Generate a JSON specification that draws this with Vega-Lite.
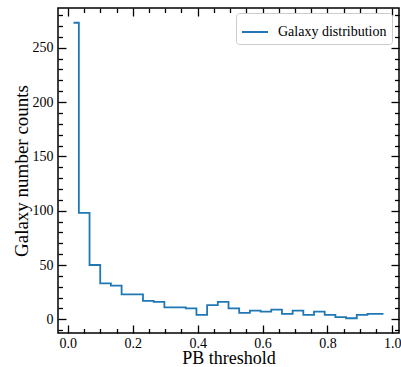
{
  "$schema": "https://vega.github.io/schema/vega-lite/v6.json",
  "width": 341,
  "height": 325,
  "autosize": {"type": "none"},
  "padding": {"left": 58, "top": 8, "right": 2, "bottom": 34},
  "background": "white",
  "config": {
    "view": {"stroke": "black", "strokeWidth": 1.5},
    "axis": {
      "labelFont": "Liberation Serif",
      "titleFont": "Liberation Serif",
      "labelFontSize": 14,
      "titleFontSize": 19,
      "titleFontWeight": "normal",
      "labelColor": "black",
      "titleColor": "black",
      "tickColor": "black",
      "tickWidth": 1.3,
      "domain": false,
      "grid": false
    },
    "legend": {
      "orient": "none",
      "legendX": 178,
      "legendY": 5,
      "padding": 5,
      "strokeColor": "#cccccc",
      "fillColor": "white",
      "cornerRadius": 3,
      "symbolType": "stroke",
      "symbolSize": 676,
      "symbolStrokeWidth": 2,
      "labelFont": "Liberation Serif",
      "labelFontSize": 14,
      "labelColor": "black",
      "labelOffset": 9
    }
  },
  "data": {
    "values": [
      {"pb": 0.0174, "count": 273, "series": "Galaxy distribution"},
      {"pb": 0.0503, "count": 98, "series": "Galaxy distribution"},
      {"pb": 0.0833, "count": 50, "series": "Galaxy distribution"},
      {"pb": 0.1162, "count": 33, "series": "Galaxy distribution"},
      {"pb": 0.1492, "count": 31, "series": "Galaxy distribution"},
      {"pb": 0.1821, "count": 23, "series": "Galaxy distribution"},
      {"pb": 0.2151, "count": 23, "series": "Galaxy distribution"},
      {"pb": 0.2480, "count": 17, "series": "Galaxy distribution"},
      {"pb": 0.2810, "count": 16, "series": "Galaxy distribution"},
      {"pb": 0.3139, "count": 11, "series": "Galaxy distribution"},
      {"pb": 0.3469, "count": 11, "series": "Galaxy distribution"},
      {"pb": 0.3798, "count": 10, "series": "Galaxy distribution"},
      {"pb": 0.4128, "count": 4, "series": "Galaxy distribution"},
      {"pb": 0.4457, "count": 13, "series": "Galaxy distribution"},
      {"pb": 0.4787, "count": 16, "series": "Galaxy distribution"},
      {"pb": 0.5116, "count": 10, "series": "Galaxy distribution"},
      {"pb": 0.5446, "count": 6, "series": "Galaxy distribution"},
      {"pb": 0.5775, "count": 8, "series": "Galaxy distribution"},
      {"pb": 0.6105, "count": 7, "series": "Galaxy distribution"},
      {"pb": 0.6434, "count": 9, "series": "Galaxy distribution"},
      {"pb": 0.6764, "count": 5, "series": "Galaxy distribution"},
      {"pb": 0.7093, "count": 8, "series": "Galaxy distribution"},
      {"pb": 0.7423, "count": 4, "series": "Galaxy distribution"},
      {"pb": 0.7752, "count": 7, "series": "Galaxy distribution"},
      {"pb": 0.8082, "count": 4, "series": "Galaxy distribution"},
      {"pb": 0.8411, "count": 2, "series": "Galaxy distribution"},
      {"pb": 0.8741, "count": 1, "series": "Galaxy distribution"},
      {"pb": 0.9070, "count": 4, "series": "Galaxy distribution"},
      {"pb": 0.9400, "count": 5, "series": "Galaxy distribution"},
      {"pb": 0.9729, "count": 5, "series": "Galaxy distribution"}
    ]
  },
  "layer": [
    {
      "mark": {"type": "line", "interpolate": "step", "strokeWidth": 1.8},
      "encoding": {
        "x": {
          "field": "pb", "type": "quantitative",
          "scale": {"domain": [-0.0304, 1.0207], "nice": false, "zero": false},
          "axis": {"orient": "bottom", "values": [0, 0.2, 0.4, 0.6, 0.8, 1.0], "format": ".1f", "ticks": false, "labelPadding": 3, "title": "PB threshold", "titleBaseline": "alphabetic", "titleY": 30, "titleFontSize": 18, "labelFlush": false, "labelOverlap": false}
        },
        "y": {
          "field": "count", "type": "quantitative",
          "scale": {"domain": [-12.6, 286.6], "nice": false, "zero": false},
          "axis": {"orient": "left", "values": [0, 50, 100, 150, 200, 250], "ticks": false, "labelPadding": 5, "title": "Galaxy number counts", "titlePadding": 1}
        },
        "color": {
          "field": "series", "type": "nominal",
          "scale": {"range": ["#1f77b4"]},
          "legend": {"title": null}
        }
      }
    },
    {
      "mark": {"type": "point", "opacity": 0},
      "encoding": {
        "x": {"field": "pb", "type": "quantitative", "scale": {"domain": [-0.0304, 1.0207], "nice": false, "zero": false},
          "axis": {"orient": "bottom", "values": [0, 0.2, 0.4, 0.6, 0.8, 1.0], "labels": false, "tickSize": -8, "title": null}},
        "y": {"field": "count", "type": "quantitative", "scale": {"domain": [-12.6, 286.6], "nice": false, "zero": false},
          "axis": {"orient": "left", "values": [0, 50, 100, 150, 200, 250], "labels": false, "tickSize": -8, "title": null}}
      }
    },
    {
      "mark": {"type": "point", "opacity": 0},
      "encoding": {
        "x": {"field": "pb", "type": "quantitative", "scale": {"domain": [-0.0304, 1.0207], "nice": false, "zero": false},
          "axis": {"orient": "bottom", "values": [0.05, 0.1, 0.15, 0.25, 0.3, 0.35, 0.45, 0.5, 0.55, 0.65, 0.7, 0.75, 0.85, 0.9, 0.95], "labels": false, "tickSize": -4.5, "title": null}},
        "y": {"field": "count", "type": "quantitative", "scale": {"domain": [-12.6, 286.6], "nice": false, "zero": false},
          "axis": {"orient": "left", "values": [-10, 10, 20, 30, 40, 60, 70, 80, 90, 110, 120, 130, 140, 160, 170, 180, 190, 210, 220, 230, 240, 260, 270, 280], "labels": false, "tickSize": -4.5, "title": null}}
      }
    },
    {
      "mark": {"type": "point", "opacity": 0},
      "encoding": {
        "x": {"field": "pb", "type": "quantitative", "scale": {"domain": [-0.0304, 1.0207], "nice": false, "zero": false},
          "axis": {"orient": "top", "values": [0, 0.2, 0.4, 0.6, 0.8, 1.0], "labels": false, "tickSize": -8, "title": null}},
        "y": {"field": "count", "type": "quantitative", "scale": {"domain": [-12.6, 286.6], "nice": false, "zero": false},
          "axis": {"orient": "right", "values": [0, 50, 100, 150, 200, 250], "labels": false, "tickSize": -8, "title": null}}
      }
    },
    {
      "mark": {"type": "point", "opacity": 0},
      "encoding": {
        "x": {"field": "pb", "type": "quantitative", "scale": {"domain": [-0.0304, 1.0207], "nice": false, "zero": false},
          "axis": {"orient": "top", "values": [0.05, 0.1, 0.15, 0.25, 0.3, 0.35, 0.45, 0.5, 0.55, 0.65, 0.7, 0.75, 0.85, 0.9, 0.95], "labels": false, "tickSize": -4.5, "title": null}},
        "y": {"field": "count", "type": "quantitative", "scale": {"domain": [-12.6, 286.6], "nice": false, "zero": false},
          "axis": {"orient": "right", "values": [-10, 10, 20, 30, 40, 60, 70, 80, 90, 110, 120, 130, 140, 160, 170, 180, 190, 210, 220, 230, 240, 260, 270, 280], "labels": false, "tickSize": -4.5, "title": null}}
      }
    }
  ],
  "resolve": {"axis": {"x": "independent", "y": "independent"}}
}
